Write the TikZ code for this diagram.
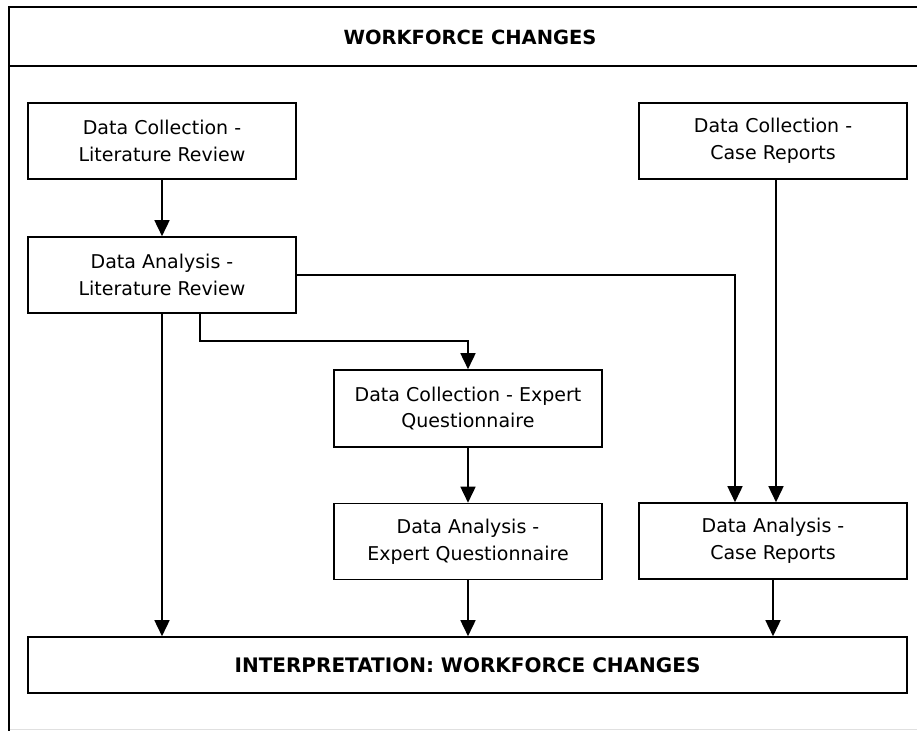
\documentclass[tikz,border=0pt]{standalone}
\usepackage{fontspec}
\setmainfont{DejaVu Sans}
\usetikzlibrary{arrows.meta}

\tikzset{
  stagebox/.style={draw, line width=1.6pt, rectangle, minimum width=268pt, minimum height=76pt,
    inner sep=0pt, align=center, font=\fontsize{19}{26.7}\selectfont},
  framestroke/.style={line width=1.8pt, line cap=rect},
  flow/.style={line width=1.6pt, -{Triangle[width=15pt,length=16pt]}},
  headfont/.style={font=\fontsize{19.5}{23}\selectfont\bfseries}
}

\begin{document}
\begin{tikzpicture}[x=1pt, y=-1pt]
  \useasboundingbox (0,0) rectangle (917,731);

  % outer frame with its header band
  \draw[framestroke] (917,7) -- (9,7) -- (9,730);
  \draw[framestroke] (9,66) -- (917,66);
  \draw[line width=1pt, black!12] (10,729.5) -- (917,729.5);
  \node[headfont] (title) at (470,37) {WORKFORCE CHANGES};

  % stages
  \node[stagebox] (dclr) at (162,141) {Data Collection -\\Literature Review};
  \node[stagebox] (dalr) at (162,275) {Data Analysis -\\Literature Review};
  \node[stagebox] (dccr) at (773,141) {Data Collection -\\Case Reports};
  \node[stagebox, minimum height=77pt] (dceq) at (468,408.5) {Data Collection - Expert\\Questionnaire};
  \node[stagebox] (daeq) at (468,541.5) {Data Analysis -\\Expert Questionnaire};
  \node[stagebox] (dacr) at (773,541) {Data Analysis -\\Case Reports};
  \node[draw, line width=1.6pt, rectangle, minimum width=879pt, minimum height=56pt,
        inner sep=0pt, headfont, font=\fontsize{20}{23}\selectfont\bfseries] (interp) at (467.5,665)
        {INTERPRETATION: WORKFORCE CHANGES};

  % connectors
  \draw[flow] (dclr) -- (dalr);
  \draw[flow] (dalr.south) -- (dalr.south |- interp.north);
  \coordinate (bend) at (200,341);
  \draw[flow] ([xshift=38pt]dalr.south) -- ([xshift=38pt]dalr.south |- bend) -| (dceq.north);
  \draw[flow] (dalr.east) -| ([xshift=-38pt]dacr.north);
  \draw[flow] ([xshift=3pt]dccr.south) -- ([xshift=3pt]dacr.north);
  \draw[flow] (dceq) -- (daeq);
  \draw[flow] (daeq.south) -- (daeq.south |- interp.north);
  \draw[flow] (dacr.south) -- (dacr.south |- interp.north);
\end{tikzpicture}
\end{document}
